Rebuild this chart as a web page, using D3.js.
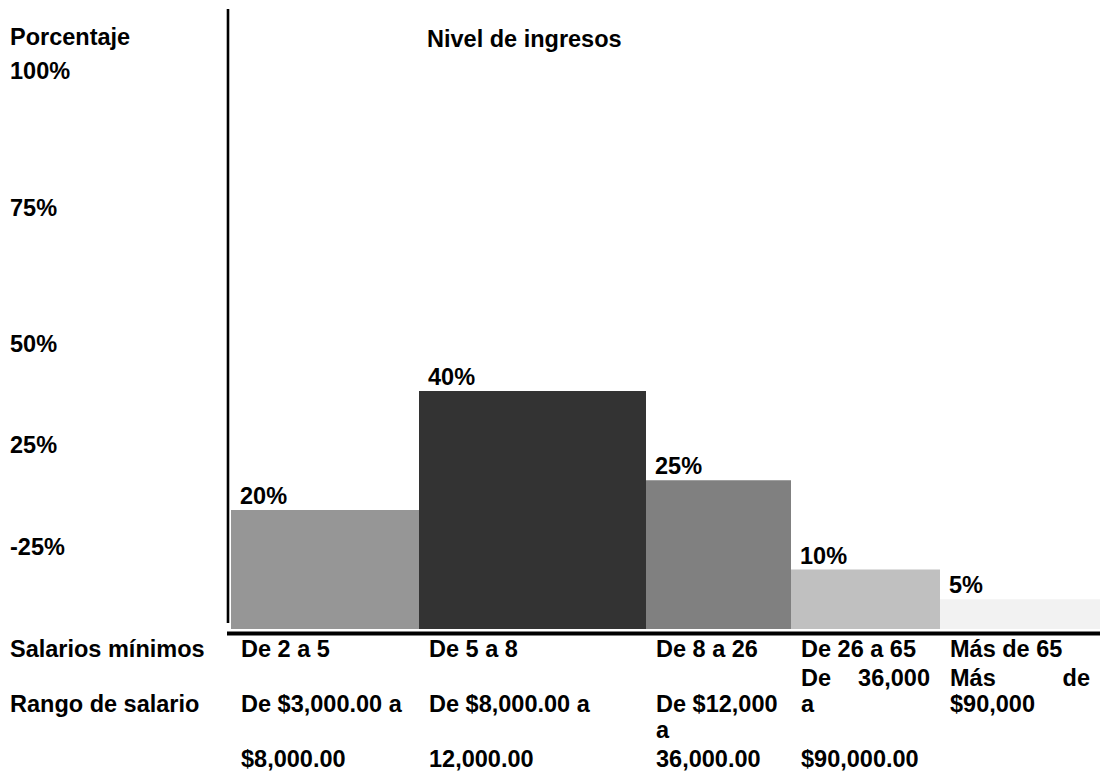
<!DOCTYPE html>
<html lang="es">
<head>
<meta charset="utf-8">
<title>Nivel de ingresos</title>
<script src="https://cdn.jsdelivr.net/npm/d3@7/dist/d3.min.js"></script>
<style>
  html, body { margin: 0; padding: 0; background: #ffffff; }
  svg { display: block; }
  text { font-family: "Liberation Sans", Arial, Helvetica, sans-serif; font-weight: bold; font-size: 23.5px; fill: #000; }
</style>
</head>
<body>
<svg id="chart" width="1100" height="772"></svg>
<script>
// ---- Datos ----
const salariosMinimos = ["De 2 a 5", "De 5 a 8", "De 8 a 26", "De 26 a 65", "Más de 65"];
const porcentajes = [20, 40, 25, 10, 5];
const rangoSalario = [
  ["De $3,000.00 a", "$8,000.00"],
  ["De $8,000.00 a", "12,000.00"],
  ["De $12,000", "a", "36,000.00"],
  ["De 36,000", "a", "$90,000.00"],
  ["Más de", "$90,000"]
];
const etiquetasEje = ["100%", "75%", "50%", "25%", "-25%"];

// ---- Diseño ----
const W = 1100, H = 772;
const base = 629;                              // pie de las barras
const colEdges = [231, 419, 646, 791, 940, 1100]; // bordes de columna de la tabla
const colores = ["#969696", "#333333", "#808080", "#c0c0c0", "#f2f2f2"];
const filasEje = [79.3, 216, 351.7, 453.3, 555]; // renglones de la columna izquierda
const pad = 10;

const svg = d3.select("#chart");

const xLeft = d3.scaleOrdinal(salariosMinimos, colEdges.slice(0, -1));
const xRight = d3.scaleOrdinal(salariosMinimos, colEdges.slice(1));
const color = d3.scaleOrdinal(salariosMinimos, colores);
const y = d3.scaleLinear().domain([0, d3.max(porcentajes)]).range([base, 391]);

const datos = salariosMinimos.map((c, i) => ({ cat: c, v: porcentajes[i], rango: rangoSalario[i] }));

// Barras
svg.append("g").selectAll("rect")
  .data(datos)
  .join("rect")
  .attr("x", d => xLeft(d.cat))
  .attr("width", d => xRight(d.cat) - xLeft(d.cat))
  .attr("y", d => y(d.v))
  .attr("height", d => y(0) - y(d.v))
  .attr("fill", d => color(d.cat));

// Etiquetas de valor
svg.append("g").selectAll("text")
  .data(datos)
  .join("text")
  .attr("x", d => xLeft(d.cat) + pad - 1)
  .attr("y", d => y(d.v) - 6)
  .text(d => d.v + "%");

// Eje vertical y línea base
svg.append("line")
  .attr("x1", 228).attr("x2", 228)
  .attr("y1", 9).attr("y2", 623)
  .attr("stroke", "#000").attr("stroke-width", 2.6);
svg.append("rect")
  .attr("x", 227).attr("y", 631.5)
  .attr("width", W - 227).attr("height", 4)
  .attr("fill", "#000");

// Títulos
svg.append("text").attr("x", 10).attr("y", 45).text("Porcentaje");
svg.append("text").attr("x", 427).attr("y", 46.7).text("Nivel de ingresos");

// Columna izquierda de porcentajes
svg.append("g").selectAll("text")
  .data(etiquetasEje)
  .join("text")
  .attr("x", 10)
  .attr("y", (d, i) => filasEje[i])
  .text(d => d);

// Tabla inferior
const filaSalarios = 657.3;
svg.append("text").attr("x", 10).attr("y", filaSalarios).text("Salarios mínimos");
svg.append("text").attr("x", 10).attr("y", 712).text("Rango de salario");

svg.append("g").selectAll("text")
  .data(datos)
  .join("text")
  .attr("x", d => xLeft(d.cat) + pad)
  .attr("y", filaSalarios)
  .text(d => d.cat);

// Renglones de cada celda del rango de salario
const renglones = [
  [712, 767],
  [712, 767],
  [712, 738, 767],
  [686, 712, 767],
  [686, 712]
];
const justificar = [false, false, false, true, true];

datos.forEach((d, i) => {
  const g = svg.append("g");
  const x0 = xLeft(d.cat) + pad;
  const x1 = xRight(d.cat) - pad;
  d.rango.forEach((linea, j) => {
    const yy = renglones[i][j];
    const palabras = linea.split(" ");
    if (justificar[i] && j === 0 && palabras.length > 1) {
      g.append("text").attr("x", x0).attr("y", yy).text(palabras[0]);
      g.append("text").attr("x", x1).attr("y", yy)
        .attr("text-anchor", "end").text(palabras.slice(1).join(" "));
    } else {
      g.append("text").attr("x", x0).attr("y", yy).text(linea);
    }
  });
});
</script>
</body>
</html>
